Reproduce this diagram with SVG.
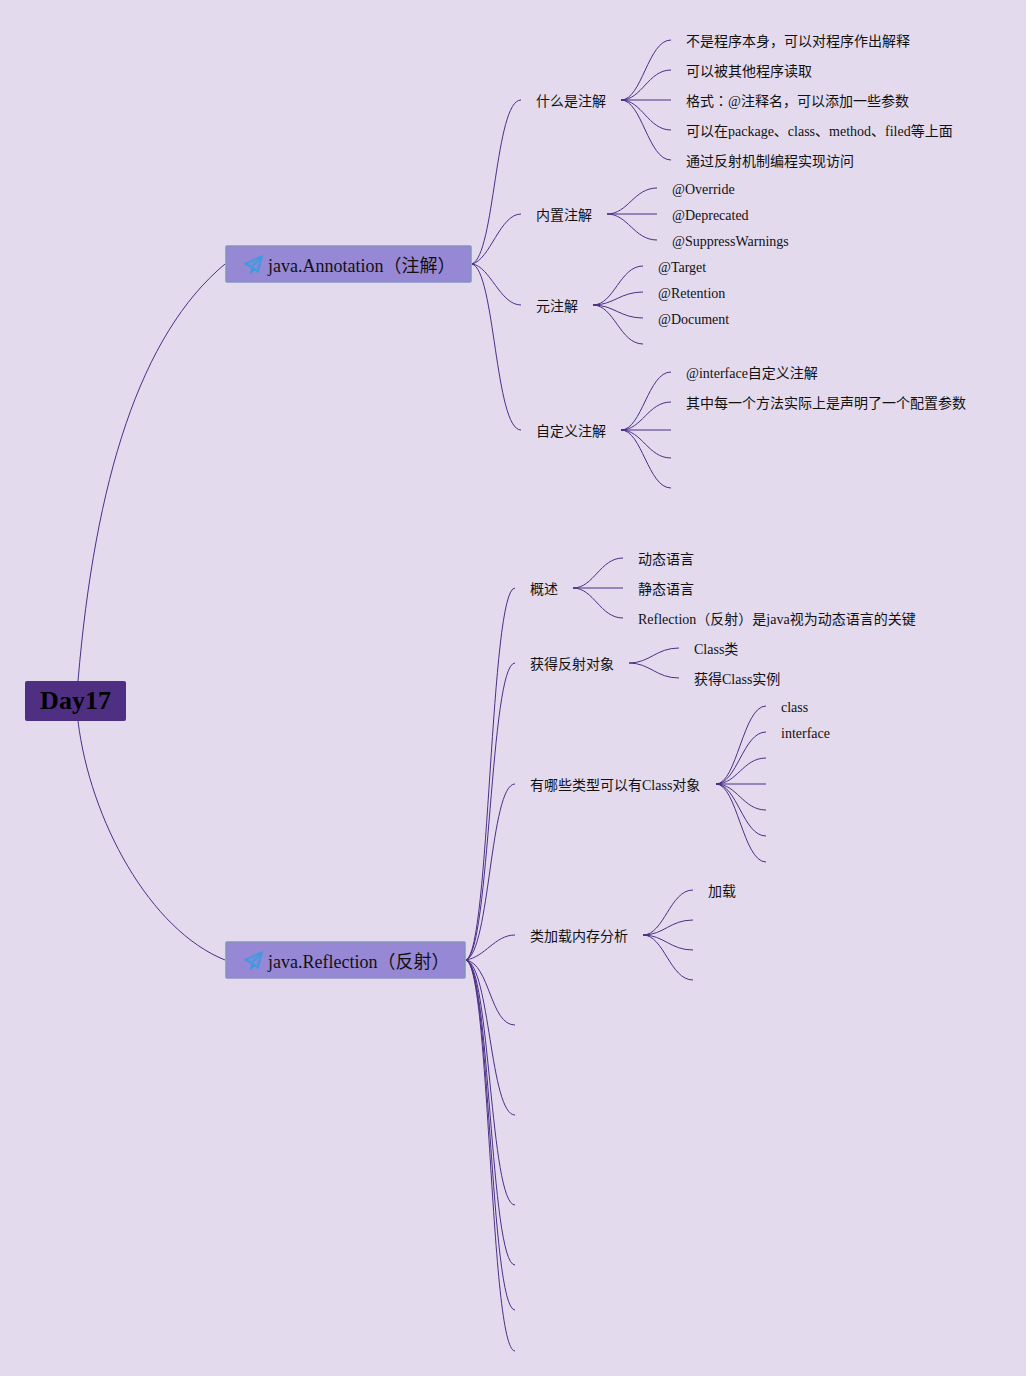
<svg xmlns="http://www.w3.org/2000/svg" width="1026" height="1376" viewBox="0 0 1026 1376">
<defs>
<style>
text{font-family:"Liberation Serif","Noto Sans CJK SC",serif;fill:#111;font-size:14px}
.c path{fill:none;stroke:#4b2f86;stroke-width:1}
.b{fill:#9788d6;stroke:#8493bd;stroke-width:1.5}
.t{font-size:18px}
.p{fill:#3f9ae0;fill-opacity:.35;stroke:#3f9ae0;stroke-width:1.8;stroke-linejoin:round}
.j{font-family:"Noto Sans CJK JP",sans-serif}
</style>
<g id="plane"><path class="p" d="M0 8 L17 0 L13 16 L7 11 Z M17 0 L7 11 L6 17 L9 13"/></g>
</defs>
<rect width="1026" height="1376" fill="#e3daee"/>
<g class="c" id="connectors">
<path d="M78 681C95 480 140 335 225 264"/>
<path d="M78 721C90 820 150 930 225 960"/>
<path d="M472 264C495 255 495 100 521 100"/>
<path d="M472 264C490 260 500 214 521 214"/>
<path d="M472 264C490 266 500 305 521 305"/>
<path d="M472 264C495 270 495 430 521 430"/>
<path d="M621 100C642 100 648 40 671 40"/>
<path d="M621 100C642 100 648 70 671 70"/>
<path d="M621 100H671"/>
<path d="M621 100C642 100 648 130 671 130"/>
<path d="M621 100C642 100 648 160 671 160"/>
<path d="M607 214C628 214 634 188 657 188"/>
<path d="M607 214H657"/>
<path d="M607 214C628 214 634 240 657 240"/>
<path d="M593 305C614 305 620 266 643 266"/>
<path d="M593 305C614 305 620 292 643 292"/>
<path d="M593 305C614 305 620 318 643 318"/>
<path d="M593 305C614 305 620 344 643 344"/>
<path d="M621 430C642 430 648 372 671 372"/>
<path d="M621 430C642 430 648 402 671 402"/>
<path d="M621 430H671"/>
<path d="M621 430C642 430 648 458 671 458"/>
<path d="M621 430C642 430 648 488 671 488"/>
<path d="M466 960C490 952 490 588 515 588"/>
<path d="M466 960C490 952 490 663 515 663"/>
<path d="M466 960C490 952 490 784 515 784"/>
<path d="M466 960C485 957 495 935 515 935"/>
<path d="M466 960C490 964 490 1025 515 1025"/>
<path d="M466 960C490 966 490 1115 515 1115"/>
<path d="M466 960C490 966 490 1205 515 1205"/>
<path d="M466 960C490 966 490 1265 515 1265"/>
<path d="M466 960C490 966 490 1310 515 1310"/>
<path d="M466 960C490 966 490 1351 515 1351"/>
<path d="M573 588C594 588 600 558 623 558"/>
<path d="M573 588H623"/>
<path d="M573 588C594 588 600 618 623 618"/>
<path d="M629 663C650 663 656 648 679 648"/>
<path d="M629 663C650 663 656 678 679 678"/>
<path d="M716 784C737 784 743 706 766 706"/>
<path d="M716 784C737 784 743 732 766 732"/>
<path d="M716 784C737 784 743 758 766 758"/>
<path d="M716 784H766"/>
<path d="M716 784C737 784 743 810 766 810"/>
<path d="M716 784C737 784 743 836 766 836"/>
<path d="M716 784C737 784 743 862 766 862"/>
<path d="M643 935C664 935 670 890 693 890"/>
<path d="M643 935C664 935 670 920 693 920"/>
<path d="M643 935C664 935 670 950 693 950"/>
<path d="M643 935C664 935 670 980 693 980"/>
</g>
<g id="root"><rect x="25" y="681" width="101" height="40" rx="2" fill="#4f2f82"/><text x="75.5" y="709" text-anchor="middle" style="font-size:26px;font-weight:bold;fill:#000">Day17</text></g>
<g id="annotation"><rect class="b" x="226" y="246" width="245" height="36" rx="1"/><use href="#plane" x="245" y="256"/><text class="t" x="268" y="272">java.Annotation（注解）</text></g>
<g id="reflection"><rect class="b" x="226" y="942" width="239" height="36" rx="1"/><use href="#plane" x="245" y="952"/><text class="t" x="268" y="968">java.Reflection（反射）</text></g>
<g id="n1"><text x="536" y="106">什么是注解</text></g>
<g id="n2"><text x="536" y="220">内置注解</text></g>
<g id="n3"><text x="536" y="311">元注解</text></g>
<g id="n4"><text x="536" y="436">自定义注解</text></g>
<g id="n1a"><text x="686" y="46">不是程序本身，可以对程序作出解释</text></g>
<g id="n1b"><text x="686" y="76">可以被其他程序读取</text></g>
<g id="n1c"><text x="686" y="106">格式<tspan class="j">：</tspan>@注释名，可以添加一些参数</text></g>
<g id="n1d"><text x="686" y="136">可以在package、class、method、filed等上面</text></g>
<g id="n1e"><text x="686" y="166">通过反射机制编程实现访问</text></g>
<g id="n2a"><text x="672" y="194">@Override</text></g>
<g id="n2b"><text x="672" y="220">@Deprecated</text></g>
<g id="n2c"><text x="672" y="246">@SuppressWarnings</text></g>
<g id="n3a"><text x="658" y="272">@Target</text></g>
<g id="n3b"><text x="658" y="298">@Retention</text></g>
<g id="n3c"><text x="658" y="324">@Document</text></g>
<g id="n4a"><text x="686" y="378">@interface自定义注解</text></g>
<g id="n4b"><text x="686" y="408">其中每一个方法实际上是声明了一个配置参数</text></g>
<g id="r1"><text x="530" y="594">概述</text></g>
<g id="r2"><text x="530" y="669">获得反射对象</text></g>
<g id="r3"><text x="530" y="790">有哪些类型可以有Class对象</text></g>
<g id="r4"><text x="530" y="941">类加载内存分析</text></g>
<g id="r1a"><text x="638" y="564">动态语言</text></g>
<g id="r1b"><text x="638" y="594">静态语言</text></g>
<g id="r1c"><text x="638" y="624">Reflection（反射）是java视为动态语言的关键</text></g>
<g id="r2a"><text x="694" y="654">Class类</text></g>
<g id="r2b"><text x="694" y="684">获得Class实例</text></g>
<g id="r3a"><text x="781" y="712">class</text></g>
<g id="r3b"><text x="781" y="738">interface</text></g>
<g id="r4a"><text x="708" y="896">加载</text></g>
</svg>
